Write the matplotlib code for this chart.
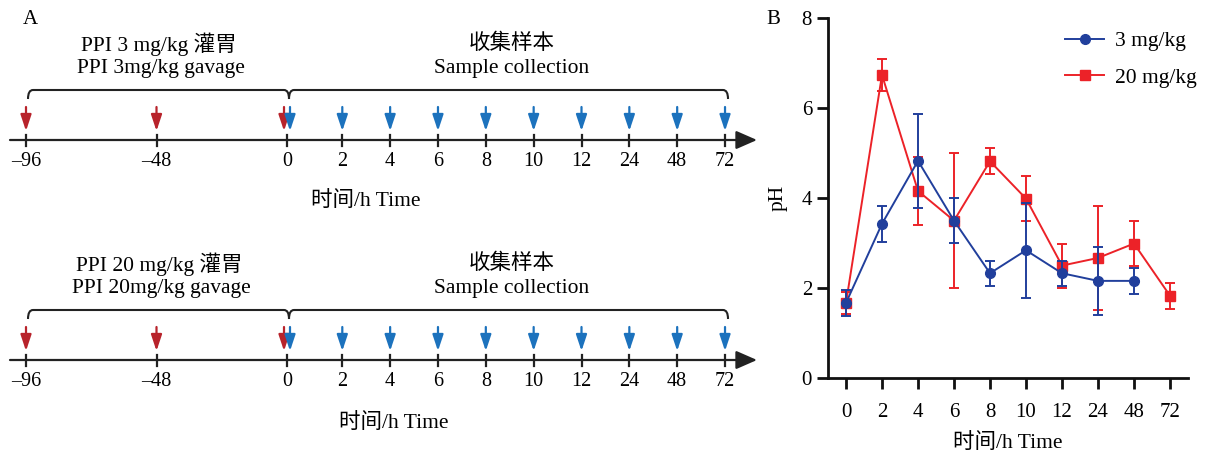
import numpy as np
import matplotlib
matplotlib.use("Agg")
import matplotlib.pyplot as plt
from matplotlib.path import Path
from matplotlib.patches import PathPatch
from matplotlib.lines import Line2D

plt.rcParams['font.family'] = ['Liberation Serif', 'Noto Sans CJK SC']
plt.rcParams['axes.unicode_minus'] = False

# data
pre_times = [-96, -48, 0]
pre_labels = ['–96', '–48', '0']
post_labels = ['2', '4', '6', '8', '10', '12', '24', '48', '72']
doses = ['3', '20']

time_labels = ['0', '2', '4', '6', '8', '10', '12', '24', '48', '72']
ph_3 = [1.67, 3.43, 4.83, 3.50, 2.33, 2.84, 2.33, 2.16, 2.16, np.nan]
err_3 = [0.29, 0.40, 1.04, 0.50, 0.28, 1.05, 0.28, 0.76, 0.29, np.nan]
ph_20 = [1.67, 6.74, 4.16, 3.50, 4.82, 3.99, 2.50, 2.67, 2.99, 1.83]
err_20 = [0.25, 0.35, 0.75, 1.50, 0.29, 0.50, 0.49, 1.15, 0.50, 0.29]

red_arrow = '#b8232b'
blue_arrow = '#1c72bd'
blue = '#213f9c'
red = '#ec2228'

fig = plt.figure(figsize=(12.1, 4.54), dpi=100)

# ---- panel A (pixel coordinates) ----
ax_a = fig.add_axes([0, 0, 770 / 1210, 1])
ax_a.set_xlim(0, 770)
ax_a.set_ylim(454, 0)
ax_a.axis('off')

x_zero = 287
px_per_h = 261 / 96
x_first_post = 342.3
post_step = 47.84


def pre_x(t):
    return x_zero + t * px_per_h


def brace(ax, x0, xm, x1, y, h=9, r=5):
    verts = [(x0, y + h), (x0, y), (x0 + r, y), (xm - r, y), (xm, y), (xm, y + h),
             (xm, y), (xm + r, y), (x1 - r, y), (x1, y), (x1, y + h)]
    codes = [Path.MOVETO, Path.CURVE3, Path.CURVE3, Path.LINETO, Path.CURVE3, Path.CURVE3,
             Path.CURVE3, Path.CURVE3, Path.LINETO, Path.CURVE3, Path.CURVE3]
    ax.add_patch(PathPatch(Path(verts, codes), fill=False, lw=1.5, ec='#222222'))


def down_arrow(ax, x, y0, y1, color):
    ax.annotate('', xy=(x, y1), xytext=(x, y0),
                arrowprops=dict(arrowstyle='-|>,head_length=0.75,head_width=0.25',
                                color=color, lw=1.6, mutation_scale=13,
                                shrinkA=0, shrinkB=0))


def timeline(ax, y_axis, dose):
    post_x = [x_first_post + i * post_step for i in range(len(post_labels))]
    all_x = [pre_x(t) for t in pre_times] + post_x
    all_lab = pre_labels + post_labels
    # main axis
    ax.annotate('', xy=(757, y_axis), xytext=(10, y_axis),
                arrowprops=dict(arrowstyle='-|>,head_length=0.8,head_width=0.35',
                                color='#222222', lw=1.6, mutation_scale=16,
                                shrinkA=0, shrinkB=0))
    for x, lab in zip(all_x, all_lab):
        ax.plot([x, x], [y_axis - 5, y_axis + 6], color='#222222', lw=1.6)
        ax.text(x, y_axis + 22, lab, ha='center', va='center', fontsize=14.5)
    # red gavage arrows
    for t in pre_times:
        x = pre_x(t) - (3 if t == 0 else 0)
        down_arrow(ax, x, y_axis - 33, y_axis - 9, red_arrow)
    # blue sampling arrows
    for x in [x_zero + 3] + post_x:
        down_arrow(ax, x, y_axis - 33, y_axis - 9, blue_arrow)
    # braces
    brace(ax, pre_x(pre_times[0]) + 2, x_zero + 2, post_x[-1] + 3, y_axis - 50)
    ax.text(159, y_axis - 96, 'PPI %s mg/kg 灌胃' % dose, ha='center', va='center', fontsize=15.5)
    ax.text(161, y_axis - 71, 'PPI %smg/kg gavage' % dose, ha='center', va='center', fontsize=15.5)
    ax.text(512, y_axis - 96, '收集样本', ha='center', va='center', fontsize=15.5)
    ax.text(512, y_axis - 71, 'Sample collection', ha='center', va='center', fontsize=15.5)


timeline(ax_a, 140, doses[0])
timeline(ax_a, 360, doses[1])
ax_a.text(366, 201, '时间/h Time', ha='center', va='center', fontsize=15.5)
ax_a.text(394, 423, '时间/h Time', ha='center', va='center', fontsize=15.5)
ax_a.text(30, 19, 'A', ha='center', va='center', fontsize=15)

# ---- panel B ----
ax_b = fig.add_axes([828 / 1210, 76 / 454, 360 / 1210, 359.7 / 454])
xi = np.arange(len(time_labels))
ax_b.errorbar(xi, ph_20, yerr=err_20, color=red, marker='s', ms=7, lw=1.4,
              capsize=3.3, elinewidth=1.4, capthick=1.4, zorder=2)
ax_b.errorbar(xi, ph_3, yerr=err_3, color=blue, marker='o', ms=7, lw=1.4,
              capsize=3.3, elinewidth=1.4, capthick=1.4, zorder=3)
ax_b.set_xlim(-0.5, 9.5)
ax_b.set_ylim(0, 8)
ax_b.set_yticks([0, 2, 4, 6, 8])
ax_b.set_xticks(xi)
ax_b.set_xticklabels(time_labels)
for s in ['top', 'right']:
    ax_b.spines[s].set_visible(False)
for s in ['left', 'bottom']:
    ax_b.spines[s].set_linewidth(2)
    ax_b.spines[s].set_color('#111111')
ax_b.tick_params(axis='both', length=8, width=2, labelsize=15, color='#111111')
ax_b.tick_params(axis='x', pad=10)
ax_b.set_ylabel('pH', fontsize=15.5, labelpad=10)
ax_b.set_xlabel('时间/h Time', fontsize=15.5, labelpad=8)
handles = [Line2D([], [], color=blue, marker='o', ms=7, lw=1.4),
           Line2D([], [], color=red, marker='s', ms=7, lw=1.4)]
ax_b.legend(handles, ['3 mg/kg', '20 mg/kg'], loc='upper right', frameon=False, fontsize=15.5,
            handlelength=1.8, handletextpad=0.5, borderaxespad=0.2, labelspacing=0.75,
            bbox_to_anchor=(1.06, 1.0))
fig.text(773 / 1210, 1 - 19 / 454, 'B', ha='center', va='center', fontsize=15)

fig.savefig('out.png', dpi=100)
